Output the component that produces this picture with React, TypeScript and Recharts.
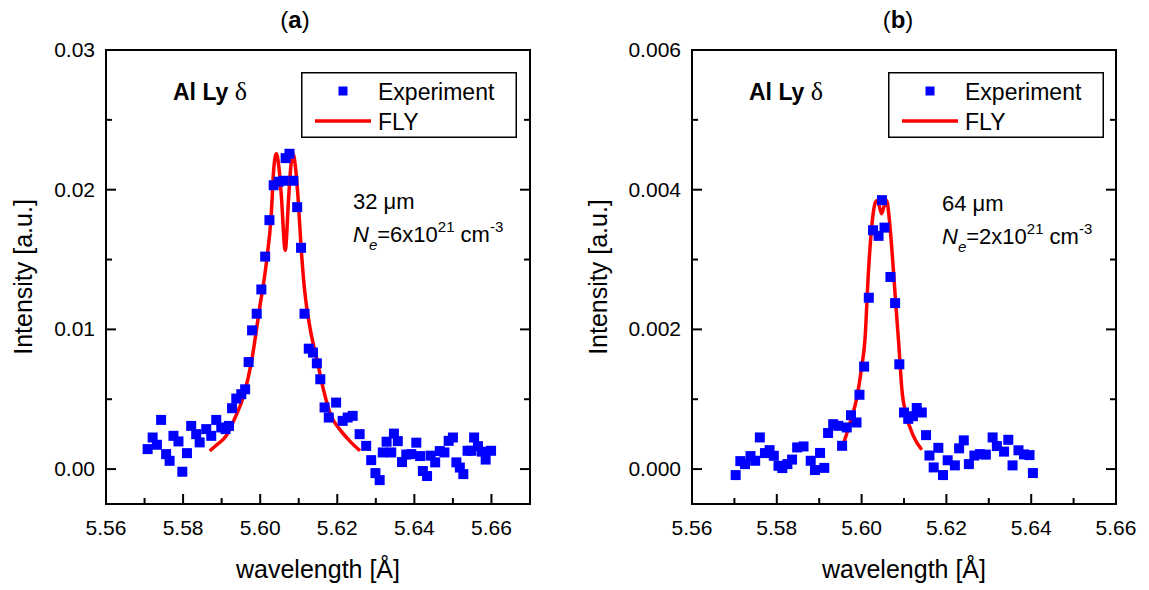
import React from 'react';
import { ComposedChart, Scatter, Line, XAxis, YAxis, Legend } from 'recharts';

// ---------- Panel (a) data ----------
const wavelengthA = [5.5708, 5.5721, 5.5732, 5.5743, 5.5756, 5.5765, 5.5775, 5.5788, 5.5798, 5.5810,
  5.5821, 5.5834, 5.5843, 5.5860, 5.5873, 5.5886, 5.5899, 5.5910, 5.5919, 5.5927,
  5.5938, 5.5951, 5.5961, 5.5970, 5.5979, 5.5991, 5.6003, 5.6013, 5.6024, 5.6035,
  5.6048, 5.6060, 5.6066, 5.6076, 5.6086, 5.6096, 5.6106, 5.6115, 5.6126, 5.6137,
  5.6147, 5.6156, 5.6167, 5.6178, 5.6197, 5.6214, 5.6227, 5.6240, 5.6258, 5.6275,
  5.6288, 5.6299, 5.6310, 5.6318, 5.6328, 5.6340, 5.6347, 5.6357, 5.6368, 5.6379,
  5.6392, 5.6405, 5.6415, 5.6422, 5.6433, 5.6442, 5.6454, 5.6466, 5.6478, 5.6489,
  5.6500, 5.6509, 5.6518, 5.6527, 5.6538, 5.6548, 5.6555, 5.6565, 5.6575, 5.6585, 5.6599];
const intensityA = [0.00143, 0.00226, 0.00174, 0.00352, 0.00107, 0.00059, 0.00238, 0.00198, -0.00019, 0.00114,
  0.00309, 0.00250, 0.00191, 0.00286, 0.00238, 0.00352, 0.00298, 0.00286, 0.00309, 0.00436,
  0.00505, 0.00536, 0.00571, 0.00766, 0.00993, 0.01112, 0.01286, 0.01521, 0.01782, 0.02032,
  0.02057, 0.02064, 0.02226, 0.02257, 0.02064, 0.01875, 0.01584, 0.01112, 0.00862, 0.00834,
  0.00757, 0.00643, 0.00441, 0.00369, 0.00476, 0.00345, 0.00369, 0.00381, 0.00250, 0.00166,
  0.00064, -0.00029, -0.00079, 0.00119, 0.00196, 0.00119, 0.00254, 0.00200, 0.00050, 0.00104,
  0.00107, 0.00189, 0.00093, -0.00014, -0.00050, 0.00096, 0.00048, 0.00129, 0.00119, 0.00202,
  0.00226, 0.00048, 0.00011, -0.00036, 0.00131, 0.00131, 0.00226, 0.00164, 0.00125, 0.00068, 0.00131];
const flyWavelengthA = [5.5869, 5.5890, 5.5912, 5.5933, 5.5957, 5.5977, 5.5998, 5.6016, 5.6029, 5.6035,
  5.6042, 5.6049, 5.6055, 5.6065, 5.6074, 5.6079, 5.6085, 5.6092, 5.6098, 5.6106,
  5.6115, 5.6130, 5.6149, 5.6164, 5.6184, 5.6206, 5.6232, 5.6259];
const flyIntensityA = [0.00131, 0.00179, 0.00238, 0.00357, 0.00524, 0.00762, 0.01143, 0.01476, 0.01833, 0.02143,
  0.02257, 0.02150, 0.01952, 0.01567, 0.01952, 0.02150, 0.02257, 0.02150, 0.01952, 0.01595,
  0.01286, 0.01000, 0.00762, 0.00571, 0.00381, 0.00286, 0.00202, 0.00131];

// ---------- Panel (b) data ----------
const wavelengthB = [5.5703, 5.5714, 5.5725, 5.5738, 5.5749, 5.5760, 5.5772, 5.5783, 5.5793, 5.5804,
  5.5813, 5.5825, 5.5836, 5.5848, 5.5863, 5.5880, 5.5890, 5.5902, 5.5912, 5.5921,
  5.5933, 5.5945, 5.5954, 5.5965, 5.5975, 5.5988, 5.5995, 5.6006, 5.6017, 5.6027,
  5.6040, 5.6048, 5.6054, 5.6068, 5.6079, 5.6089, 5.6100, 5.6110, 5.6121, 5.6130,
  5.6142, 5.6152, 5.6160, 5.6170, 5.6181, 5.6192, 5.6203, 5.6220, 5.6230, 5.6241,
  5.6253, 5.6266, 5.6279, 5.6293, 5.6309, 5.6319, 5.6336, 5.6346, 5.6356, 5.6370,
  5.6383, 5.6396, 5.6404];
const intensityB = [-0.000086, 0.000114, 0.000071, 0.000186, 0.000119, 0.000453, 0.000229, 0.000271, 0.000190, 0.000047,
  0.000014, 0.000071, 0.000136, 0.000310, 0.000324, 0.000119, -0.000014, 0.000231, 0.000017, 0.000517,
  0.000643, 0.000619, 0.000333, 0.000596, 0.000771, 0.000667, 0.001064, 0.001467, 0.002453, 0.003419,
  0.003339, 0.003850, 0.003457, 0.002750, 0.002376, 0.001500, 0.000810, 0.000719, 0.000757, 0.000874,
  0.000810, 0.000486, 0.000194, 0.000024, 0.000304, -0.000086, 0.000126, 0.000053, 0.000297, 0.000411,
  0.000071, 0.000194, 0.000214, 0.000207, 0.000453, 0.000329, 0.000250, 0.000419, 0.000053, 0.000269,
  0.000210, 0.000200, -0.000057];
const flyWavelengthB = [5.5953, 5.5973, 5.5988, 5.6000, 5.6008, 5.6016, 5.6024, 5.6032, 5.6037, 5.6042,
  5.6047, 5.6053, 5.6059, 5.6065, 5.6072, 5.6081, 5.6088, 5.6095, 5.6106, 5.6122, 5.6142];
const flyIntensityB = [0.000286, 0.000667, 0.001000, 0.001453, 0.001857, 0.002810, 0.003476, 0.003810, 0.003847, 0.003760,
  0.003657, 0.003760, 0.003847, 0.003600, 0.003096, 0.002333, 0.001761, 0.001143, 0.000761, 0.000476, 0.000276];

// ---------- Ticks ----------
const xMajorTicks = [5.56, 5.58, 5.60, 5.62, 5.64, 5.66];
const xMajorLabels = ['5.56', '5.58', '5.60', '5.62', '5.64', '5.66'];
const xMinorTicks = [5.57, 5.59, 5.61, 5.63, 5.65];
const yMajorTicksA = [0, 0.01, 0.02, 0.03];
const yMajorLabelsA = ['0.00', '0.01', '0.02', '0.03'];
const yMinorTicksA = [0.005, 0.015, 0.025];
const yMajorTicksB = [0, 0.002, 0.004, 0.006];
const yMajorLabelsB = ['0.000', '0.002', '0.004', '0.006'];
const yMinorTicksB = [0.001, 0.003, 0.005];

const seriesNames = ['Experiment', 'FLY'];
const EXP_COLOR = '#0000FF';
const FLY_COLOR = '#FF0000';
const FONT = '"Liberation Sans", Arial, Helvetica, sans-serif';

const zip = (xs: number[], ys: number[]) => xs.map((x, i) => ({ x, y: ys[i] }));

type Side = 'left' | 'right' | 'top' | 'bottom';

function makeTick(side: Side, major: number[], labels: string[] | null) {
  return (props: any) => {
    const { x, y, payload } = props;
    const v = payload.value;
    const idx = major.findIndex((m) => Math.abs(m - v) < 1e-9);
    const len = idx >= 0 ? 10 : 6;
    let line: any = null;
    if (side === 'left') line = <line x1={x} x2={x + len} y1={y} y2={y} stroke="#000" strokeWidth={2} />;
    if (side === 'right') line = <line x1={x} x2={x - len} y1={y} y2={y} stroke="#000" strokeWidth={2} />;
    if (side === 'bottom') line = <line x1={x} x2={x} y1={y} y2={y - len} stroke="#000" strokeWidth={2} />;
    if (side === 'top') line = <line x1={x} x2={x} y1={y} y2={y + len} stroke="#000" strokeWidth={2} />;
    let label: any = null;
    if (labels && idx >= 0) {
      if (side === 'left') {
        label = (
          <text x={x - 11} y={y + 7} textAnchor="end" fontFamily={FONT} fontSize={21} fill="#000">
            {labels[idx]}
          </text>
        );
      } else if (side === 'bottom') {
        label = (
          <text x={x} y={y + 31} textAnchor="middle" fontFamily={FONT} fontSize={21} fill="#000">
            {labels[idx]}
          </text>
        );
      }
    }
    return (
      <g>
        {line}
        {label}
      </g>
    );
  };
}

const Square = (props: any) => {
  const { cx, cy } = props;
  if (cx == null || cy == null) return null;
  return <rect x={cx - 5} y={cy - 5} width={10} height={10} fill={EXP_COLOR} />;
};

const LegendBox = (props: any) => {
  const payload = props.payload || [];
  return (
    <svg width={216} height={66} style={{ display: 'block' }}>
      <rect x={0.75} y={0.75} width={214.5} height={64.5} fill="#fff" stroke="#000" strokeWidth={1.5} />
      {payload.map((entry: any, i: number) => {
        const cy = i === 0 ? 19 : 49;
        const isLine = entry.type === 'line';
        return (
          <g key={i}>
            {isLine ? (
              <line x1={14} x2={70} y1={cy} y2={cy} stroke={FLY_COLOR} strokeWidth={3.5} />
            ) : (
              <rect x={37.5} y={cy - 4.5} width={9} height={9} fill={EXP_COLOR} />
            )}
            <text x={77} y={cy + 8.5} fontFamily={FONT} fontSize={23} fill="#000">
              {entry.value}
            </text>
          </g>
        );
      })}
    </svg>
  );
};

const axisLineStyle = { stroke: '#000', strokeWidth: 2, strokeLinecap: 'square' as const };

function Panel(props: {
  exp: { x: number; y: number }[];
  fly: { x: number; y: number }[];
  xDomain: [number, number];
  yDomain: [number, number];
  yMajor: number[];
  yMajorLabels: string[];
  yMinor: number[];
  margin: { top: number; right: number; bottom: number; left: number };
  legendLeft: number;
}) {
  const xTicks = [...xMajorTicks, ...xMinorTicks]
    .filter((t) => t <= props.xDomain[1] + 1e-9)
    .sort((a, b) => a - b);
  const yTicks = [...props.yMajor, ...props.yMinor].sort((a, b) => a - b);
  return (
    <ComposedChart width={574} height={590} margin={props.margin}>
      <XAxis
        xAxisId="bottom"
        dataKey="x"
        type="number"
        orientation="bottom"
        domain={props.xDomain}
        allowDataOverflow
        ticks={xTicks}
        interval={0}
        height={60}
        tickSize={0}
        tickMargin={0}
        tickLine={false}
        axisLine={axisLineStyle}
        tick={makeTick('bottom', xMajorTicks, xMajorLabels)}
      />
      <XAxis
        xAxisId="top"
        type="number"
        orientation="top"
        domain={props.xDomain}
        allowDataOverflow
        ticks={xTicks}
        interval={0}
        height={10}
        tickSize={0}
        tickMargin={0}
        tickLine={false}
        axisLine={axisLineStyle}
        tick={makeTick('top', xMajorTicks, null)}
      />
      <YAxis
        yAxisId="left"
        dataKey="y"
        type="number"
        orientation="left"
        domain={props.yDomain}
        allowDataOverflow
        ticks={yTicks}
        interval={0}
        width={100}
        tickSize={0}
        tickMargin={0}
        tickLine={false}
        axisLine={axisLineStyle}
        tick={makeTick('left', props.yMajor, props.yMajorLabels)}
      />
      <YAxis
        yAxisId="right"
        type="number"
        orientation="right"
        domain={props.yDomain}
        allowDataOverflow
        ticks={yTicks}
        interval={0}
        width={10}
        tickSize={0}
        tickMargin={0}
        tickLine={false}
        axisLine={axisLineStyle}
        tick={makeTick('right', props.yMajor, null)}
      />
      <Legend
        layout="horizontal"
        verticalAlign="middle"
        align="center"
        wrapperStyle={{ left: props.legendLeft, top: 72, width: 216, height: 66 }}
        content={LegendBox}
      />
      <Scatter
        name={seriesNames[0]}
        data={props.exp}
        dataKey="y"
        xAxisId="bottom"
        yAxisId="left"
        fill={EXP_COLOR}
        shape={Square}
        legendType="square"
        isAnimationActive={false}
      />
      <Line
        name={seriesNames[1]}
        data={props.fly}
        dataKey="y"
        xAxisId="bottom"
        yAxisId="left"
        type="monotone"
        stroke={FLY_COLOR}
        strokeWidth={3.5}
        dot={false}
        activeDot={false}
        legendType="line"
        isAnimationActive={false}
      />
    </ComposedChart>
  );
}

const NeText = (p: { x: number; y: number; value: string }) => (
  <text x={p.x} y={p.y} fontFamily={FONT} fontSize={22} fill="#000">
    <tspan fontStyle="italic">N</tspan>
    <tspan fontStyle="italic" fontSize={15} dy={8}>e</tspan>
    <tspan dy={-8}>{'=' + p.value + 'x10'}</tspan>
    <tspan fontSize={15} dy={-10}>21</tspan>
    <tspan dy={10}>{' cm'}</tspan>
    <tspan fontSize={15} dy={-10}>-3</tspan>
  </text>
);

export default function App() {
  const expA = zip(wavelengthA, intensityA);
  const flyA = zip(flyWavelengthA, flyIntensityA);
  const expB = zip(wavelengthB, intensityB);
  const flyB = zip(flyWavelengthB, flyIntensityB);
  return (
    <div style={{ position: 'absolute', left: 0, top: 0, width: 1149, height: 590, background: '#fff' }}>
      <div style={{ position: 'absolute', left: 0, top: 0 }}>
        <Panel
          exp={expA}
          fly={flyA}
          xDomain={[5.56, 5.67]}
          yDomain={[-0.0025, 0.03]}
          yMajor={yMajorTicksA}
          yMajorLabels={yMajorLabelsA}
          yMinor={yMinorTicksA}
          margin={{ top: 40, right: 34, bottom: 26, left: 6 }}
          legendLeft={301}
        />
      </div>
      <div style={{ position: 'absolute', left: 575, top: 0 }}>
        <Panel
          exp={expB}
          fly={flyB}
          xDomain={[5.56, 5.66]}
          yDomain={[-0.0005, 0.006]}
          yMajor={yMajorTicksB}
          yMajorLabels={yMajorLabelsB}
          yMinor={yMinorTicksB}
          margin={{ top: 40, right: 23, bottom: 26, left: 17 }}
          legendLeft={313}
        />
      </div>
      <svg
        width={1149}
        height={590}
        style={{ position: 'absolute', left: 0, top: 0, pointerEvents: 'none' }}
      >
        <text x={295} y={28} textAnchor="middle" fontFamily={FONT} fontSize={24} fill="#000">
          (<tspan fontWeight="bold">a</tspan>)
        </text>
        <text x={898} y={28} textAnchor="middle" fontFamily={FONT} fontSize={24} fill="#000">
          (<tspan fontWeight="bold">b</tspan>)
        </text>
        <text x={318} y={578} textAnchor="middle" fontFamily={FONT} fontSize={25} fill="#000">
          wavelength [Å]
        </text>
        <text x={904} y={578} textAnchor="middle" fontFamily={FONT} fontSize={25} fill="#000">
          wavelength [Å]
        </text>
        <text
          x={32}
          y={277}
          transform="rotate(-90 32 277)"
          textAnchor="middle"
          fontFamily={FONT}
          fontSize={25}
          fill="#000"
        >
          Intensity [a.u.]
        </text>
        <text
          x={607}
          y={277}
          transform="rotate(-90 607 277)"
          textAnchor="middle"
          fontFamily={FONT}
          fontSize={25}
          fill="#000"
        >
          Intensity [a.u.]
        </text>
        <text x={173} y={100} fontFamily={FONT} fontSize={23} fontWeight="bold" fill="#000">
          Al Ly <tspan fontFamily='"Liberation Serif", "Times New Roman", serif' fontWeight="normal" fontSize={26}>δ</tspan>
        </text>
        <text x={749} y={100} fontFamily={FONT} fontSize={23} fontWeight="bold" fill="#000">
          Al Ly <tspan fontFamily='"Liberation Serif", "Times New Roman", serif' fontWeight="normal" fontSize={26}>δ</tspan>
        </text>
        <text x={353} y={209} fontFamily={FONT} fontSize={22} fill="#000">32 μm</text>
        <NeText x={353} y={242} value="6" />
        <text x={942} y={211} fontFamily={FONT} fontSize={22} fill="#000">64 μm</text>
        <NeText x={942} y={244} value="2" />
      </svg>
    </div>
  );
}
